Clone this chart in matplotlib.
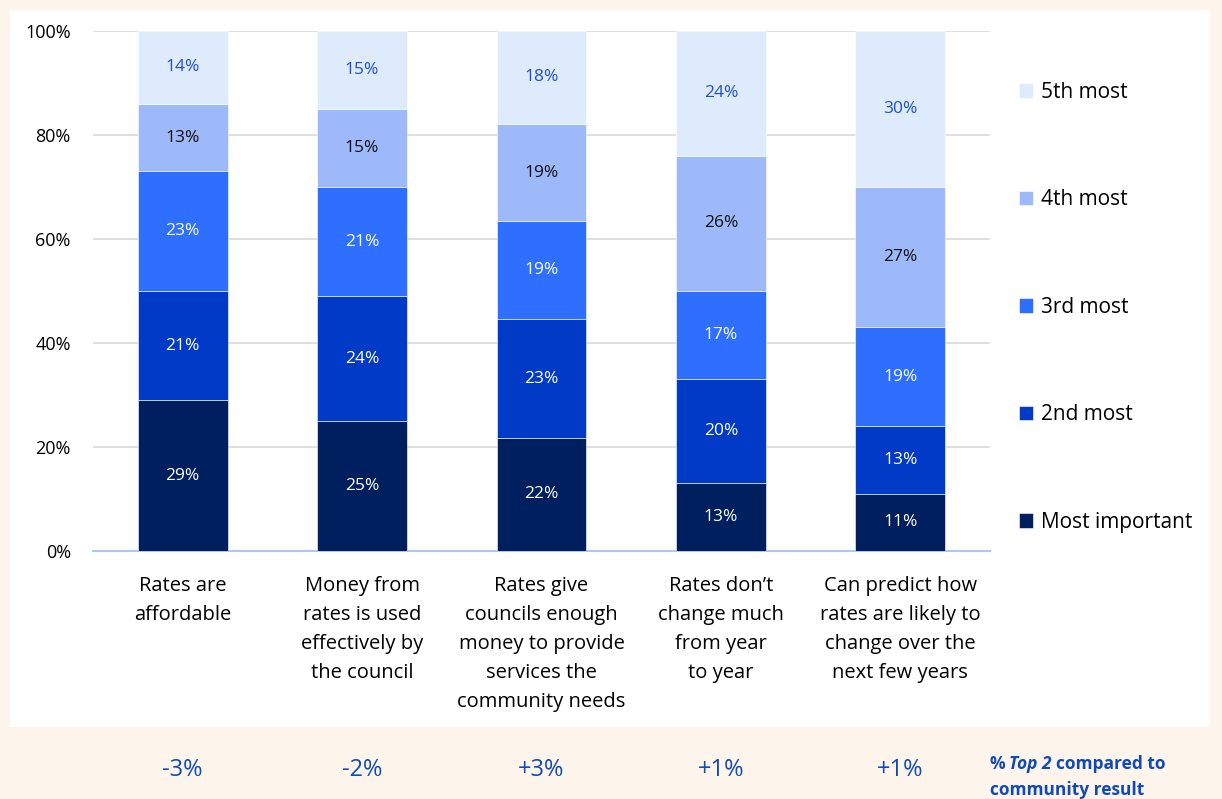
import numpy as np
import matplotlib.pyplot as plt
from matplotlib.patches import Rectangle

categories = ["Rates are\naffordable",
              "Money from\nrates is used\neffectively by\nthe council",
              "Rates give\ncouncils enough\nmoney to provide\nservices the\ncommunity needs",
              "Rates don\u2019t\nchange much\nfrom year\nto year",
              "Can predict how\nrates are likely to\nchange over the\nnext few years"]
series = ["Most important", "2nd most", "3rd most", "4th most", "5th most"]
most_important = [29, 25, 22, 13, 11]
second_most = [21, 24, 23, 20, 13]
third_most = [23, 21, 19, 17, 19]
fourth_most = [13, 15, 19, 26, 27]
fifth_most = [14, 15, 18, 24, 30]
top2_diff = ["-3%", "-2%", "+3%", "+1%", "+1%"]

colors = ["#001F5F", "#003AC6", "#2E6FFF", "#9DB9FA", "#DEEBFC"]
label_colors = ["white", "white", "white", "#111111", "#1F4FCF"]

plt.rcParams["font.family"] = ["Open Sans", "DejaVu Sans"]

fig = plt.figure(figsize=(12.22, 7.99), dpi=100)
fig.patch.set_facecolor("#FDF5EB")
W, H = 1222, 799
fig.patches.append(Rectangle((10 / W, 1 - 727 / H), 1200 / W, 717 / H,
                             transform=fig.transFigure, facecolor="white",
                             edgecolor="none", zorder=-5))

ax = fig.add_axes([93 / W, 1 - 551 / H, (990 - 93) / W, (551 - 31) / H])
ax.set_facecolor("none")

data = np.array([most_important, second_most, third_most, fourth_most, fifth_most], dtype=float)
shares = data / data.sum(axis=0) * 100
x = np.arange(len(categories))
bottom = np.zeros(len(categories))
for i, name in enumerate(series):
    ax.bar(x, shares[i], 0.5, bottom=bottom, color=colors[i], label=name,
           edgecolor="white", linewidth=0.4, zorder=3)
    for j in range(len(categories)):
        ax.text(x[j], bottom[j] + shares[i][j] / 2, f"{int(data[i][j])}%",
                ha="center", va="center", fontsize=12.5, color=label_colors[i], zorder=4)
    bottom += shares[i]

ax.set_xlim(-0.5, 4.5)
ax.set_ylim(0, 100)
ax.set_yticks(range(0, 101, 20))
ax.set_yticklabels([f"{v}%" for v in range(0, 101, 20)], fontsize=13)
ax.yaxis.grid(True, color="#D9D9D9", linewidth=1.2, zorder=0)
ax.tick_params(axis="y", length=0, pad=16)
ax.tick_params(axis="x", length=0, pad=18)
ax.set_xticks(x)
ax.set_xticklabels(categories, fontsize=14.5, linespacing=1.6)
for s in ["top", "right", "left"]:
    ax.spines[s].set_visible(False)
ax.spines["bottom"].set_color("#B4C7E7")
ax.spines["bottom"].set_linewidth(1.5)

handles, labels = ax.get_legend_handles_labels()
leg = fig.legend(handles[::-1], labels[::-1], loc="upper left",
                 bbox_to_anchor=(1000 / W, 1 - 63 / H), frameon=False,
                 fontsize=15, handlelength=0.7, handleheight=0.7,
                 handletextpad=0.35, labelspacing=4.15)

# change in top-2 share versus the community result
blue = "#0F4AB8"
for j, d in enumerate(top2_diff):
    fig.text((93 + 179.4 * (j + 0.5)) / W, 1 - 770 / H, d, ha="center", va="center",
             fontsize=17, color=blue)
fig.text(990 / W, 1 - 764 / H, "%", ha="left", va="center",
         fontsize=12.5, color=blue, fontweight="bold")
fig.text(1009 / W, 1 - 764 / H, "Top 2", ha="left", va="center",
         fontsize=12.5, color=blue, fontweight="bold", fontstyle="italic")
fig.text(1056 / W, 1 - 764 / H, "compared to", ha="left", va="center",
         fontsize=12.5, color=blue, fontweight="bold")
fig.text(990 / W, 1 - 790 / H, "community result", ha="left", va="center",
         fontsize=12.5, color=blue, fontweight="bold")

fig.savefig("out.png", dpi=100, facecolor=fig.get_facecolor())
